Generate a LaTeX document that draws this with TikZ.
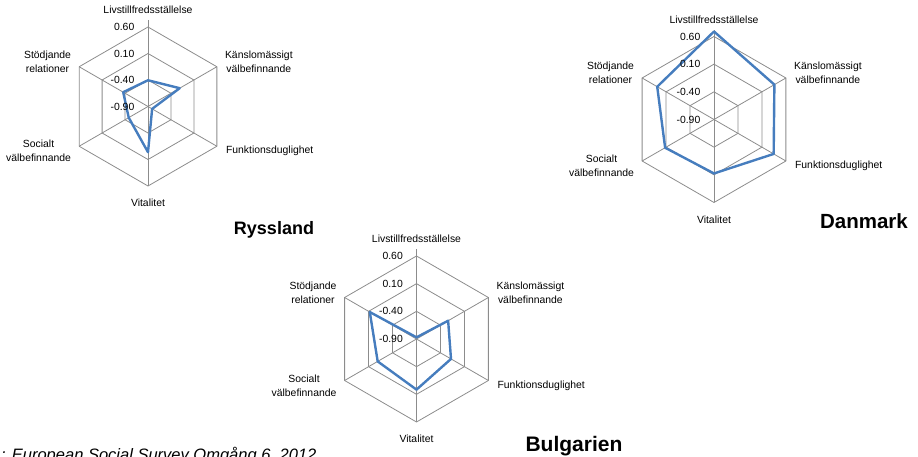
\documentclass[tikz,border=0pt]{standalone}
\usepackage{xcolor}
\usepackage{fontspec}
\setmainfont{Liberation Sans}
\usepackage{tikz}
\usetikzlibrary{positioning}

\definecolor{gridgray}{RGB}{140,140,140}
\definecolor{serieblue}{RGB}{70,125,190}

\tikzset{
  ring/.style={gridgray, line width=0.8pt},
  spoke/.style={gridgray, line width=0.8pt},
  serie/.style={serieblue, line width=2.4pt, line join=round},
  axlabel/.style={font=\fontsize{10.4}{14}\selectfont, align=center, inner sep=0pt},
  ticklabel/.style={font=\fontsize{10.4}{12}\selectfont, anchor=east, inner sep=0pt},
  country/.style={font=\fontsize{#1}{#1}\selectfont\bfseries, anchor=base, inner sep=0pt},
  country/.default=20.5,
  source/.style={font=\fontsize{16.5}{18}\selectfont\itshape, anchor=base west, inner sep=0pt}
}

% one hexagonal radar: #1 prefix, #2 radius, #3-#8 values (top, then clockwise)
\newcommand{\radar}[8]{%
  \coordinate (#1-c) at (0,0);
  \foreach \a/\n in {90/1,30/2,-30/3,-90/4,210/5,150/6}
    \coordinate (#1-v\n) at ({\a}:{#2});
  \coordinate (#1-tip) at (90:{#2+6.5});
  % rings
  \foreach \k in {1,2,3}
    \draw[ring] ({90}:{\k*#2/3}) -- ({30}:{\k*#2/3}) -- ({-30}:{\k*#2/3})
      -- ({-90}:{\k*#2/3}) -- ({210}:{\k*#2/3}) -- ({150}:{\k*#2/3}) -- cycle;
  % spokes
  \draw[spoke] (#1-c) -- (#1-tip);
  \foreach \n in {2,...,6}
    \draw[spoke] (#1-c) -- (#1-v\n);
  % the series
  \draw[serie] (90:{#3*#2}) -- (30:{#4*#2}) -- (-30:{#5*#2})
    -- (-90:{#6*#2}) -- (210:{#7*#2}) -- (150:{#8*#2}) -- cycle;
  % axis values
  \foreach \k/\lab in {0/-0.90,1/-0.40,2/0.10,3/0.60}
    \node[ticklabel] (#1-t\k) at (-13.5,{\k*#2/3}) {\lab};
  % category labels
  \node[axlabel, above=6.5pt of #1-tip] (#1-l1) {Livstillfredsställelse};
  \node[axlabel, right=8pt of #1-v2, yshift=5pt] (#1-l2) {Känslomässigt\\välbefinnande};
  \node[axlabel, right=9pt of #1-v3, yshift=-5pt] (#1-l3) {Funktionsduglighet};
  \node[axlabel, below=13pt of #1-v4] (#1-l4) {Vitalitet};
  \node[axlabel, left=8pt of #1-v5, yshift=-5pt] (#1-l5) {Socialt\\välbefinnande};
  \node[axlabel, left=8pt of #1-v6, yshift=5pt] (#1-l6) {Stödjande\\relationer};
}

\begin{document}
\begin{tikzpicture}[x=1pt, y=1pt]
  % page frame
  \useasboundingbox (0,0) rectangle (918,457);
  \clip (0,0) rectangle (918,457);

  % Ryssland
  \begin{scope}[shift={(148,350.5)}]
    \radar{ru}{79.5}{0.33}{0.46}{0.06}{0.575}{0.28}{0.36}
  \end{scope}
  \node[country=18] (ryssland) at (274,222.7) {Ryssland};

  % Danmark
  \begin{scope}[shift={(714,337.5)}]
    \radar{dk}{83}{1.06}{0.84}{0.83}{0.65}{0.68}{0.79}
  \end{scope}
  \node[country] (danmark) at (864,228.7) {Danmark};

  % Bulgarien
  \begin{scope}[shift={(416.5,118)}]
    \radar{bg}{83}{0.02}{0.44}{0.48}{0.61}{0.54}{0.65}
  \end{scope}
  \node[country=21] (bulgarien) at (574,5.3) {Bulgarien};

  % source line, cut by the page edge
  \node[source] (kalla) at (1,-4) {: European Social Survey Omgång 6, 2012};
\end{tikzpicture}
\end{document}
